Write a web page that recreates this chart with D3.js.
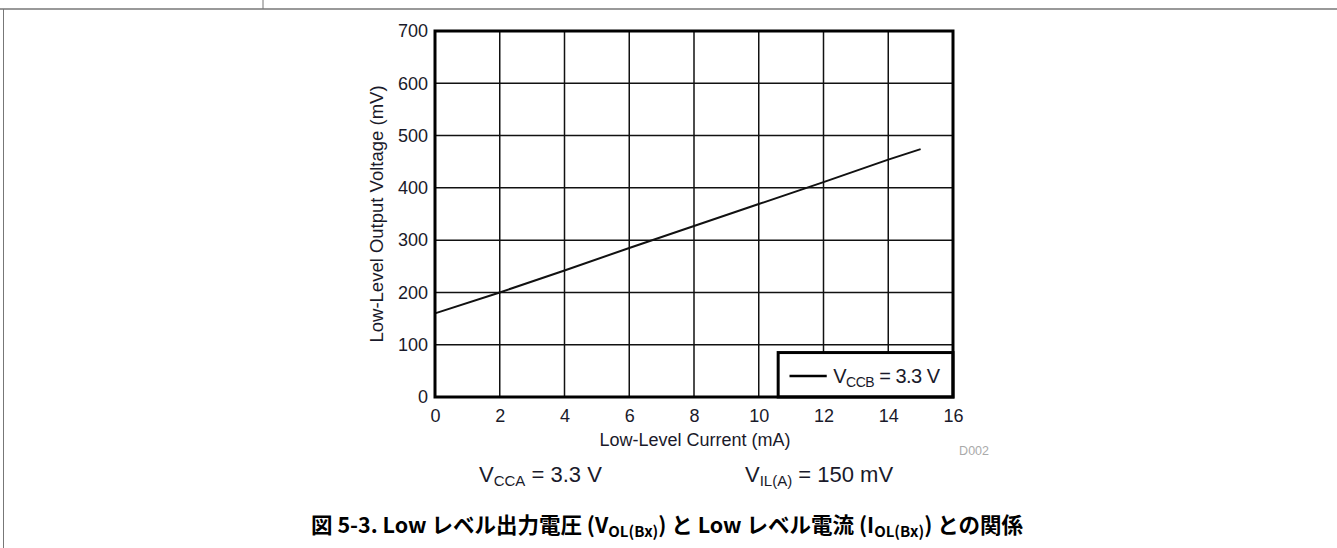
<!DOCTYPE html>
<html><head><meta charset="utf-8">
<script src="https://cdn.jsdelivr.net/npm/d3@7"></script>
<style>
body{margin:0;background:#fff;}
svg{display:block;font-family:"Liberation Sans",Arial,sans-serif;}
</style></head>
<body>
<svg id="c" width="1337" height="548"></svg>
<script>
const currentMA = [0, 2, 4, 6, 8, 10, 12, 14, 15];
const voltageMV = [160, 200, 242, 285, 327, 369, 411, 454, 474];
const xTicks = [0, 2, 4, 6, 8, 10, 12, 14, 16];
const yTicks = [0, 100, 200, 300, 400, 500, 600, 700];

const svg = d3.select("#c");
const L = 435, R = 953, T = 31, B = 397;
const x = d3.scaleLinear().domain([0, 16]).range([L, R]);
const y = d3.scaleLinear().domain([0, 700]).range([B, T]);
const txt = "#1a1a2a";

// page frame lines
svg.append("line").attr("x1",0).attr("x2",1337).attr("y1",9).attr("y2",9).attr("stroke","#777").attr("stroke-width",1.5);
svg.append("line").attr("x1",263).attr("x2",263).attr("y1",0).attr("y2",9).attr("stroke","#777").attr("stroke-width",1);
svg.append("line").attr("x1",3.5).attr("x2",3.5).attr("y1",9).attr("y2",548).attr("stroke","#777").attr("stroke-width",1);

// grid
const g = svg.append("g");
g.selectAll(".gx").data(xTicks).join("line").attr("x1",d=>x(d)).attr("x2",d=>x(d)).attr("y1",T).attr("y2",B).attr("stroke","#111").attr("stroke-width",1.5);
g.selectAll(".gy").data(yTicks).join("line").attr("y1",d=>y(d)).attr("y2",d=>y(d)).attr("x1",L).attr("x2",R).attr("stroke","#111").attr("stroke-width",1.5);

// axes (labels)
const xAxis = d3.axisBottom(x).tickValues(xTicks).tickSize(0).tickPadding(12);
const ax = svg.append("g").attr("transform",`translate(0,${B})`).call(xAxis);
ax.select(".domain").remove();
ax.selectAll("text").attr("font-size",18).attr("fill",txt).attr("font-family","Liberation Sans, Arial, sans-serif");
const yAxis = d3.axisLeft(y).tickValues(yTicks).tickSize(0).tickPadding(7);
const ay = svg.append("g").attr("transform",`translate(${L},0)`).call(yAxis);
ay.select(".domain").remove();
ay.selectAll("text").attr("font-size",18).attr("fill",txt).attr("font-family","Liberation Sans, Arial, sans-serif");

// data line
const line = d3.line().x((d,i)=>x(currentMA[i])).y(d=>y(d));
svg.append("path").datum(voltageMV).attr("d",line).attr("fill","none").attr("stroke","#111").attr("stroke-width",2);

// legend
const lg = svg.append("g");
lg.append("rect").attr("x",x(10.6)).attr("y",y(85)).attr("width",R-x(10.6)).attr("height",B-y(85)).attr("fill","#fff").attr("stroke","#000").attr("stroke-width",3);
lg.append("line").attr("x1",x(10.95)).attr("x2",x(12.1)).attr("y1",y(40)).attr("y2",y(40)).attr("stroke","#000").attr("stroke-width",2.5);
const lt = lg.append("text").attr("x",x(12.3)).attr("y",y(40)+7).attr("font-size",20).attr("fill",txt).attr("letter-spacing",-0.5);
lt.append("tspan").text("V");
lt.append("tspan").attr("font-size",14).attr("dy",4).text("CCB");
lt.append("tspan").attr("dy",-4).text(" = 3.3 V");

// frame
svg.append("rect").attr("x",L).attr("y",T).attr("width",R-L).attr("height",B-T).attr("fill","none").attr("stroke","#000").attr("stroke-width",3);

// axis titles
svg.append("text").attr("transform",`translate(383,${(T+B)/2}) rotate(-90)`).attr("text-anchor","middle").attr("font-size",18.5).attr("fill",txt).text("Low-Level Output Voltage (mV)");
svg.append("text").attr("x",695).attr("y",446).attr("text-anchor","middle").attr("font-size",18).attr("fill",txt).text("Low-Level Current (mA)");
svg.append("text").attr("x",989).attr("y",455).attr("text-anchor","end").attr("font-size",12.5).attr("fill","#aaa").text("D002");

// conditions
const c1 = svg.append("text").attr("x",479).attr("y",482).attr("font-size",22).attr("fill",txt);
c1.append("tspan").text("V");
c1.append("tspan").attr("font-size",15).attr("dy",4).text("CCA");
c1.append("tspan").attr("dy",-4).text(" = 3.3 V");
const c2 = svg.append("text").attr("x",745).attr("y",482).attr("font-size",22).attr("fill",txt);
c2.append("tspan").text("V");
c2.append("tspan").attr("font-size",15).attr("dy",4).text("IL(A)");
c2.append("tspan").attr("dy",-4).text(" = 150 mV");

// caption
const cap = svg.append("text").attr("x",667).attr("y",533).attr("text-anchor","middle").attr("font-size",21.5).attr("font-weight","bold").attr("fill","#000").attr("font-family","'Noto Sans CJK JP','Liberation Sans',sans-serif");
cap.append("tspan").text("図 5-3. Low レベル出力電圧 (V");
cap.append("tspan").attr("font-size",15).attr("dy",4).text("OL(Bx)");
cap.append("tspan").attr("dy",-4).text(") と Low レベル電流 (I");
cap.append("tspan").attr("font-size",15).attr("dy",4).text("OL(Bx)");
cap.append("tspan").attr("dy",-4).text(") との関係");
</script>
</body></html>
